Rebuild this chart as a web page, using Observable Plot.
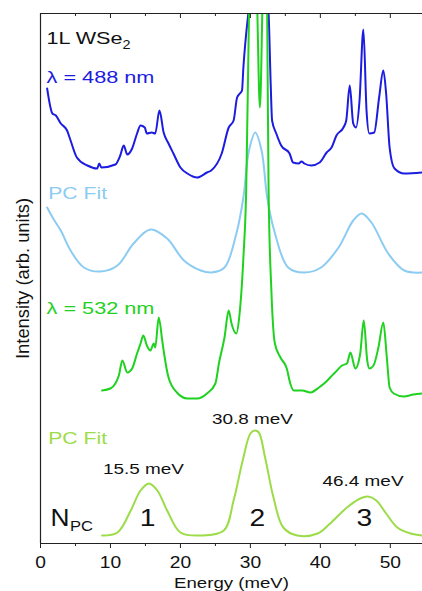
<!DOCTYPE html>
<html>
<head>
<meta charset="utf-8">
<script src="https://cdn.jsdelivr.net/npm/d3@7"></script>
<script src="https://cdn.jsdelivr.net/npm/@observablehq/plot@0.6"></script>
<style>
  html, body { margin: 0; padding: 0; background: #fff; }
  #chart svg { display: block; }
</style>
</head>
<body>
<div id="chart"></div>
<script>
// ---- Data (Energy in meV, Intensity in arbitrary units) ----
const xMajorTicks = [0, 10, 20, 30, 40, 50];
const xMinorTicks = [5, 15, 25, 35, 45];

// Raman spectrum, lambda = 488 nm
const e488 = [0.95,1.7,2.2,2.9,3.8,4.3,5.2,6.7,8.1,8.4,8.7,10.7,11.4,11.9,12.4,13.1,13.8,14.3,14.9,15.2,15.9,16.4,17.0,17.6,18.3,19.0,20.0,21.0,22.4,23.8,24.4,25.9,26.9,27.6,28.1,28.5,28.8,29.0,29.4,29.7,30.8,32.6,32.9,33.1,33.7,34.4,35.6,36.1,36.9,37.3,37.7,38.7,39.9,40.9,41.6,42.3,43.3,43.7,44.2,44.7,45.1,45.6,46.15,46.6,47.0,47.7,48.4,49.0,49.4,49.9,50.6,52.0,54.6];
const i488 = [455,430,428,420,413,403,386,378,375,380,376,379,388,398,389,395,410,418,416,410,411,410,433,411,400,390,376,370,366,371,373,390,416,423,446,450,453,476,510,530,640,530,460,423,410,398,390,381,380,382,380,378,381,391,396,408,416,423,458,420,416,443,514,433,410,411,446,473,450,396,375,370,371];

// PC fit for 488 nm
const eFit488 = [0.95,1.9,2.9,4.3,6.2,8.6,11.0,13.3,15.7,18.1,20.5,22.9,24.4,26.3,28.0,29.0,29.8,30.7,31.6,32.4,33.4,35.4,37.7,40.1,42.6,44.7,45.9,47.3,49.7,52.0,54.6];
const iFit488 = [336,324,313,293,276,272,278,300,314,305,283,273,271,276,310,346,393,411,393,346,313,276,271,276,296,323,330,321,290,273,271];

// Raman spectrum, lambda = 532 nm
const e532 = [8.8,10.0,10.7,11.2,11.7,12.4,13.1,13.8,14.3,14.7,15.2,15.7,16.2,16.4,16.9,17.4,17.6,18.3,19.5,21.0,22.4,23.8,25.0,25.5,26.3,26.9,27.3,28.0,28.4,29.0,29.4,29.8,30.4,31.0,31.36,31.7,32.1,32.4,32.6,33.0,33.5,34.3,35.2,35.7,36.2,37.4,38.6,39.8,40.7,41.4,42.1,43.1,43.8,44.3,45.0,45.7,46.2,46.7,47.0,47.6,48.3,49.0,49.5,49.9,50.5,51.9,53.3,54.6];
const i532 = [153,155,160,168,183,171,175,190,200,208,198,193,200,196,226,203,193,166,151,145,145,150,160,180,206,233,220,210,226,286,353,530,760,530,436,530,700,530,353,253,200,186,175,160,153,153,151,156,161,166,171,178,180,191,175,190,223,183,175,178,196,221,186,156,150,147,149,150];

// PC fit for 532 nm
const eFit532 = [8.8,11.0,12.9,14.3,15.5,16.7,18.1,20.0,22.9,26.2,27.6,28.9,30.0,30.6,31.2,32.1,33.3,34.7,36.7,39.6,41.4,43.8,45.7,46.8,48.0,49.4,51.0,52.9,54.6];
const iFit532 = [8,11,33,53,60,53,33,11,8,13,43,83,110,113,111,86,46,16,8,10,20,36,45,47,43,30,16,10,8];

// phonon-cascade peak energies and indices
const pcEnergies = ["15.5 meV", "30.8 meV", "46.4 meV"];
const pcIndices = ["1", "2", "3"];

const zip = (xs, ys) => xs.map((x, k) => ({x, y: ys[k]}));

const BLUE = "#1c1ce0";
const LIGHTBLUE = "#8ccbf2";
const GREEN = "#1fd21f";
const LIGHTGREEN = "#9bdc48";
const AXIS = "#222";

const chart = Plot.plot({
  width: 422,
  height: 591,
  marginTop: 13,
  marginBottom: 48,
  marginLeft: 40,
  marginRight: 0,
  x: {domain: [0, 54.6]},
  y: {domain: [0, 530], axis: null},
  style: {fontFamily: "'Liberation Sans', Arial, sans-serif", fontSize: "16px", color: AXIS, background: "#fff"},
  marks: [
    Plot.line(zip(eFit532, iFit532), {x: "x", y: "y", stroke: LIGHTGREEN, strokeWidth: 2, curve: "catmull-rom", clip: true}),
    Plot.line(zip(eFit488, iFit488), {x: "x", y: "y", stroke: LIGHTBLUE, strokeWidth: 2, curve: "catmull-rom", clip: true}),
    Plot.line(zip(e488, i488), {x: "x", y: "y", stroke: BLUE, strokeWidth: 2, curve: "monotone-x", clip: true}),
    Plot.line(zip(e532, i532), {x: "x", y: "y", stroke: GREEN, strokeWidth: 2, curve: "monotone-x", clip: true}),

    // frame lines
    Plot.ruleX([0], {stroke: AXIS, strokeWidth: 1.2}),
    Plot.ruleY([0, 530], {stroke: AXIS, strokeWidth: 1.2}),

    // bottom axis
    Plot.axisX({anchor: "bottom", ticks: xMajorTicks, tickSize: 5, tickPadding: 8.5, label: null, fontSize: 16, stroke: AXIS, fill: "#111"}),
    Plot.axisX({anchor: "bottom", ticks: xMinorTicks, tickSize: 3, tickFormat: () => "", label: null, stroke: AXIS}),
    // top axis (inward ticks)
    Plot.axisX({anchor: "bottom", frameAnchor: "top", ticks: xMajorTicks, tickSize: 5, tickFormat: () => "", label: null, stroke: AXIS}),
    Plot.axisX({anchor: "bottom", frameAnchor: "top", ticks: xMinorTicks, tickSize: 3, tickFormat: () => "", label: null, stroke: AXIS}),

    // axis titles
    Plot.text(["Energy (meV)"], {frameAnchor: "bottom", dy: 44, lineAnchor: "bottom", fontSize: 15.5, fill: "#111"}),
    Plot.text(["Intensity (arb. units)"], {frameAnchor: "left", dx: -12, rotate: -90, textAnchor: "middle", lineAnchor: "bottom", fontSize: 17, fill: "#111"}),

    // series labels
    Plot.text([{t: "1L WSe", x: 0.86, y: 500}], {x: "x", y: "y", text: "t", textAnchor: "start", lineAnchor: "bottom", fontSize: 17, fill: "#111"}),
    Plot.text([{t: "2", x: 11.71, y: 495}], {x: "x", y: "y", text: "t", textAnchor: "start", lineAnchor: "bottom", fontSize: 12, fill: "#111"}),
    Plot.text([{t: "λ = 488 nm", x: 0.86, y: 461}], {x: "x", y: "y", text: "t", textAnchor: "start", lineAnchor: "bottom", fontSize: 16.5, fill: BLUE}),
    Plot.text([{t: "PC Fit", x: 1.1, y: 345}], {x: "x", y: "y", text: "t", textAnchor: "start", lineAnchor: "bottom", fontSize: 17, fill: LIGHTBLUE}),
    Plot.text([{t: "λ = 532 nm", x: 0.86, y: 230}], {x: "x", y: "y", text: "t", textAnchor: "start", lineAnchor: "bottom", fontSize: 16.5, fill: GREEN}),
    Plot.text([{t: "PC Fit", x: 1.1, y: 100}], {x: "x", y: "y", text: "t", textAnchor: "start", lineAnchor: "bottom", fontSize: 17, fill: LIGHTGREEN}),

    // peak energy labels
    Plot.text([{t: pcEnergies[0], x: 14.7, y: 70}, {t: pcEnergies[1], x: 30.3, y: 120}, {t: pcEnergies[2], x: 46.1, y: 58}],
      {x: "x", y: "y", text: "t", lineAnchor: "bottom", fontSize: 15.5, fill: "#111"}),
    // N_PC indices
    Plot.text([{t: pcIndices[0], x: 15.3, y: 18}, {t: pcIndices[1], x: 31.0, y: 18}, {t: pcIndices[2], x: 46.3, y: 18}],
      {x: "x", y: "y", text: "t", lineAnchor: "bottom", fontSize: 23.5, fill: "#111"}),
    Plot.text([{t: "N", x: 1.43, y: 18}], {x: "x", y: "y", text: "t", textAnchor: "start", lineAnchor: "bottom", fontSize: 24, fill: "#111"}),
    Plot.text([{t: "PC", x: 4.2, y: 13}], {x: "x", y: "y", text: "t", textAnchor: "start", lineAnchor: "bottom", fontSize: 14.5, fill: "#111"})
  ]
});

document.getElementById("chart").appendChild(chart);

// widen text glyphs to the widths they occupy in the reference typography
const targetWidth = {
  "1L WSe": 76, "λ = 488 nm": 108, "λ = 532 nm": 108, "PC Fit": 59,
  "15.5 meV": 81, "30.8 meV": 81, "46.4 meV": 81, "Energy (meV)": 115,
  "PC": 23, "N": 19, "Intensity (arb. units)": 161
};
chart.querySelectorAll("text").forEach(t => {
  const txt = t.textContent;
  if (!txt) return;
  const len = t.getComputedTextLength();
  let sx = targetWidth[txt] && len > 0 ? targetWidth[txt] / len : 1.2;
  const s = txt === "Intensity (arb. units)" ? `scale(${sx},1.12)` : `scale(${sx},1)`;
  const tr = t.getAttribute("transform");
  if (tr) {
    t.setAttribute("transform", tr + " " + s);
  } else {
    const x = +(t.getAttribute("x") || 0), y = +(t.getAttribute("y") || 0);
    t.setAttribute("transform", `translate(${x},${y}) ${s} translate(${-x},${-y})`);
  }
});
</script>
</body>
</html>
